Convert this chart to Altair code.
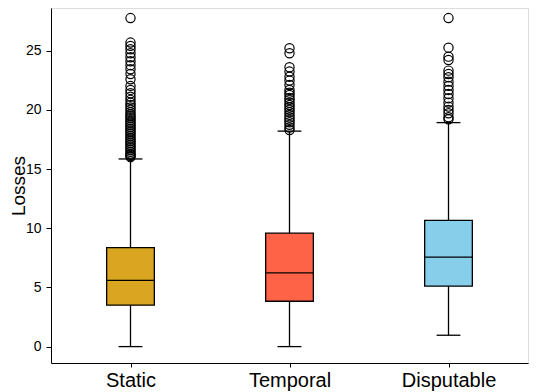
import json
import altair as alt
import pandas as pd

categories = ["Static", "Temporal", "Disputable"]
colors = ["#DAA520", "#FF6347", "#87CEEB"]
q1 = [3.5, 3.83, 5.1]
median = [5.6, 6.22, 7.55]
q3 = [8.36, 9.58, 10.67]
whisker_low = [0.0, 0.0, 0.96]
whisker_high = [15.85, 18.2, 18.92]

outliers_static = [27.75, 25.68, 25.40, 25.12, 24.78, 24.44, 24.10, 23.77, 23.43, 23.03,
                   22.58, 22.02, 21.68, 21.40, 21.11, 20.84, 20.6, 20.4, 20.2, 20.0,
                   19.8, 19.6, 19.45, 19.3, 19.15, 19.0, 18.85, 18.7, 18.55, 18.4,
                   18.25, 18.1, 17.95, 17.8, 17.65, 17.5, 17.35, 17.2, 17.05, 16.9,
                   16.75, 16.6, 16.45, 16.3, 16.2, 16.1, 16.0]
outliers_temporal = [25.2, 24.78, 23.6, 23.23, 22.8, 22.47, 22.1, 21.68, 21.45, 21.26,
                     21.0, 20.84, 20.6, 20.4, 20.2, 20.0, 19.8, 19.57, 19.35, 19.15,
                     18.95, 18.73, 18.5, 18.3]
outliers_disputable = [27.75, 25.25, 24.49, 24.21, 23.31, 23.03, 22.75, 22.38, 22.02,
                       21.68, 21.34, 20.98, 20.61, 20.27, 19.99, 19.71, 19.37, 19.2]

y_ticks = [0, 5, 10, 15, 20, 25]
box_half = 0.15
cap_half = 0.075

summary = pd.DataFrame({
    "cat": categories,
    "pos": [i + 1 for i in range(len(categories))],
    "q1": q1, "median": median, "q3": q3,
    "lo": whisker_low, "hi": whisker_high, "color": colors,
})
summary["bl"] = summary["pos"] - box_half
summary["br"] = summary["pos"] + box_half
summary["cl"] = summary["pos"] - cap_half
summary["cr"] = summary["pos"] + cap_half

out_rows = []
for i, vals in enumerate([outliers_static, outliers_temporal, outliers_disputable]):
    for v in vals:
        out_rows.append({"pos": i + 1, "v": v})
outs = pd.DataFrame(out_rows)

label_expr = json.dumps(categories) + "[datum.value - 1]"
xscale = alt.Scale(domain=[0.5, 3.5], nice=False, zero=False)
yscale = alt.Scale(domain=[-1.385, 28.6], nice=False, zero=False)

FONT = "Liberation Sans"
xaxis = alt.Axis(values=[1, 2, 3], labelExpr=label_expr, title=None, grid=False,
                 labelFontSize=20, labelColor="black", tickColor="black", domainColor="black",
                 tickSize=4, labelPadding=3, labelFont=FONT)
yaxis = alt.Axis(values=y_ticks, title="Losses", grid=False, labelFontSize=14,
                 titleFontSize=19, titleFontWeight="normal", titleFont=FONT,
                 labelFont=FONT, labelColor="black", titleColor="black",
                 tickColor="black", domainColor="black", tickSize=5, labelPadding=5,
                 titleX=-23)

base = alt.Chart(summary)
SW = 1.3

whisk_low = base.mark_rule(color="black", strokeWidth=SW).encode(
    x=alt.X("pos:Q", scale=xscale, axis=xaxis),
    y=alt.Y("lo:Q", scale=yscale, axis=yaxis), y2="q1:Q")
whisk_high = base.mark_rule(color="black", strokeWidth=SW).encode(
    x=alt.X("pos:Q", scale=xscale), y=alt.Y("q3:Q", scale=yscale), y2="hi:Q")
box = base.mark_rect(stroke="black", strokeWidth=SW).encode(
    x=alt.X("bl:Q", scale=xscale), x2="br:Q",
    y=alt.Y("q1:Q", scale=yscale), y2="q3:Q",
    fill=alt.Fill("color:N", scale=None))
med = base.mark_rule(color="black", strokeWidth=SW).encode(
    x=alt.X("bl:Q", scale=xscale), x2="br:Q", y=alt.Y("median:Q", scale=yscale))
cap_lo = base.mark_rule(color="black", strokeWidth=SW).encode(
    x=alt.X("cl:Q", scale=xscale), x2="cr:Q", y=alt.Y("lo:Q", scale=yscale))
cap_hi = base.mark_rule(color="black", strokeWidth=SW).encode(
    x=alt.X("cl:Q", scale=xscale), x2="cr:Q", y=alt.Y("hi:Q", scale=yscale))
pts = alt.Chart(outs).mark_point(shape="circle", filled=False, color="black",
                                 strokeWidth=1.2, size=85, opacity=1).encode(
    x=alt.X("pos:Q", scale=xscale), y=alt.Y("v:Q", scale=yscale))

chart = alt.layer(whisk_low, whisk_high, box, med, cap_lo, cap_hi, pts).properties(
    width=477, height=355,
    autosize=alt.AutoSizeParams(type="none"),
    padding={"left": 43, "top": 0, "right": 4, "bottom": 29},
).configure_view(stroke="black", strokeWidth=1.2).configure(background="white")

chart.save("out.html", embed_options={"renderer": "svg", "actions": False})
